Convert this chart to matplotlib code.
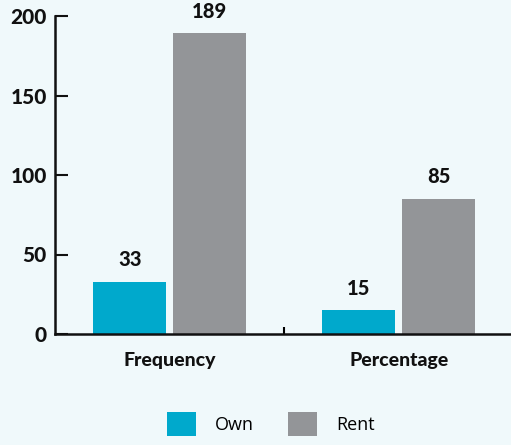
import matplotlib
matplotlib.use("Agg")
import matplotlib.pyplot as plt
import numpy as np

categories = ["Frequency", "Percentage"]
own = [33, 15]
rent = [189, 85]
series_names = ["Own", "Rent"]

BG = "#f0f9fb"
OWN_COLOR = "#00a9cc"
RENT_COLOR = "#939598"

plt.rcParams["font.family"] = ["Lato", "DejaVu Sans"]

fig = plt.figure(figsize=(5.11, 4.45), dpi=100, facecolor=BG)
ax = fig.add_axes([55 / 511, 111 / 445, 1 - 55 / 511, 318 / 445])
ax.set_facecolor(BG)

x = np.arange(len(categories))
width = 0.318
offset = 0.174
b1 = ax.bar(x - offset, own, width, color=OWN_COLOR, label=series_names[0])
b2 = ax.bar(x + offset, rent, width, color=RENT_COLOR, label=series_names[1])

for bars in (b1, b2):
    ax.bar_label(bars, padding=9, fontsize=14.5, fontweight="black", color="#111111")

ax.set_xlim(-0.5, 1.49)
ax.set_ylim(0, 200)
ax.set_yticks([0, 50, 100, 150, 200])
ax.tick_params(axis="y", direction="in", length=9, width=1.5, pad=6,
               labelsize=15, colors="#111111")
for lbl in ax.get_yticklabels():
    lbl.set_fontweight("black")

ax.set_xticks(x)
ax.set_xticklabels(categories, fontsize=14, fontweight="black", color="#111111")
ax.tick_params(axis="x", which="major", length=0, pad=13)
ax.set_xticks([0.5], minor=True)
ax.tick_params(axis="x", which="minor", direction="in", length=5, width=1.5)

for s in ["top", "right"]:
    ax.spines[s].set_visible(False)
for s in ["left", "bottom"]:
    ax.spines[s].set_linewidth(1.8)
    ax.spines[s].set_color("#111111")

leg = fig.legend(loc="center", bbox_to_anchor=(0.53, 0.047), ncol=2,
                 frameon=False, handlelength=1.6, handleheight=1.6,
                 columnspacing=1.9, handletextpad=1.05,
                 prop={"family": "Open Sans", "size": 13})

fig.savefig("out.png", dpi=100, facecolor=BG)
